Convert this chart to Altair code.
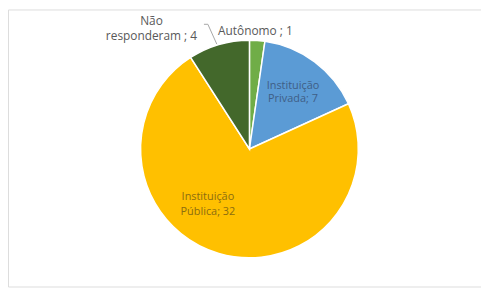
import altair as alt
import pandas as pd

categories = ["Autônomo", "Instituição Privada", "Instituição Pública", "Não responderam"]
values = [1, 7, 32, 4]
order = [1, 2, 3, 4]
colors = ["#70AD47", "#5B9BD5", "#FFC000", "#43682B"]

df = pd.DataFrame({"cat": categories, "val": values, "ord": order})

CX, CY = 244, 141  # pie centre inside the view (page coords minus 8px margin)

pie = alt.Chart(df).mark_arc(outerRadius=110, stroke="white", strokeWidth=1.5).encode(
    theta=alt.Theta("val:Q", stack=True),
    order=alt.Order("ord:Q"),
    color=alt.Color("cat:N", scale=alt.Scale(domain=categories, range=colors), legend=None),
    x=alt.value(CX),
    y=alt.value(CY),
)

def label(lines, x, y, color, size=11, lh=13):
    return alt.Chart(pd.DataFrame({"t": [lines]})).mark_text(
        font="Open Sans", fontSize=size, color=color, align="center", baseline="middle",
        lineHeight=lh,
    ).encode(text="t:N", x=alt.value(x), y=alt.value(y))

lab_aut = label(f"{categories[0]} ; {values[0]}", 250, 22, "#595959", size=12)
lab_nr = label(["Não", f"responderam ; {values[3]}"], 145, 12, "#595959", size=12, lh=15)
lab_priv = label(["Instituição", f"Privada; {values[1]}"], 288, 77, "#3F5E86", size=11, lh=14)
lab_pub = label(["Instituição", f"Pública; {values[2]}"], 202, 190, "#8C6D10", size=11, lh=15)

lead1 = alt.Chart(pd.DataFrame({"a": [0]})).mark_rule(color="#A6A6A6", strokeWidth=1).encode(
    x=alt.value(198), x2=alt.value(202), y=alt.value(15), y2=alt.value(15))
lead2 = alt.Chart(pd.DataFrame({"a": [0]})).mark_rule(color="#A6A6A6", strokeWidth=1).encode(
    x=alt.value(202), x2=alt.value(211), y=alt.value(15), y2=alt.value(35))

chart = alt.layer(pie, lead1, lead2, lab_aut, lab_nr, lab_priv, lab_pub).properties(
    width=478, height=280, autosize=alt.AutoSizeParams(type="none"), padding=0,
).configure_view(stroke="#D9D9D9", strokeWidth=1).configure(background="white")

chart.save("out.html", embed_options={"renderer": "svg", "actions": False})
